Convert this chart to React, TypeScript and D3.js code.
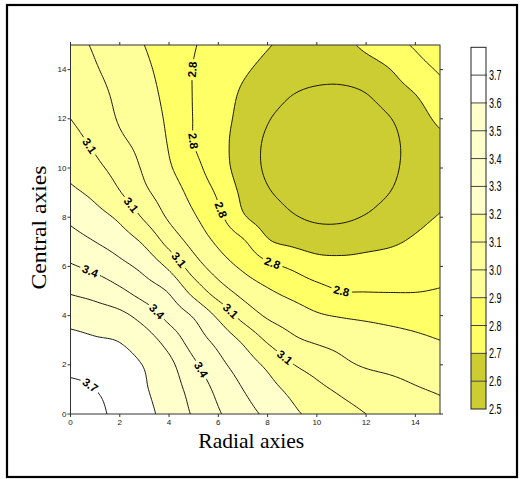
import React from "react";
import * as d3 from "d3";

// ---------- data ----------
const xTickValues = [0, 2, 4, 6, 8, 10, 12, 14];
const yTickValues = [0, 2, 4, 6, 8, 10, 12, 14];
const fillThresholds = [2.5, 2.6, 2.7, 2.8, 2.9, 3.0, 3.1, 3.2, 3.3, 3.4, 3.5, 3.6, 3.7];
const bandColors = ["#CCCC33", "#CCCC33", "#FFFF66", "#FFFF66", "#FFFF99", "#FFFF99", "#FFFF99", "#FFFFCC", "#FFFFCC", "#FFFFCC", "#FFFFCC", "#FFFFFF", "#FFFFFF"];
const lineLevels = [2.6, 2.7, 2.8, 2.9, 3.0, 3.1, 3.2, 3.3, 3.4, 3.5, 3.6, 3.7];
const colorbarTicks = [2.5, 2.6, 2.7, 2.8, 2.9, 3.0, 3.1, 3.2, 3.3, 3.4, 3.5, 3.6, 3.7];
const colorbarMax = 3.8;

// grid values: column x = i, rows y = i..15 (field is symmetric about x = y)
const col0 = [3.79, 3.73, 3.67, 3.63, 3.56, 3.49, 3.41, 3.34, 3.28, 3.22, 3.17, 3.13, 3.10, 3.07, 3.05, 3.03];
const col1 = [3.70, 3.665, 3.61, 3.545, 3.465, 3.376, 3.30, 3.235, 3.176, 3.123, 3.085, 3.06, 3.034, 3.008, 2.99];
const col2 = [3.635, 3.595, 3.524, 3.418, 3.328, 3.253, 3.181, 3.105, 3.061, 3.019, 2.991, 2.976, 2.96, 2.945];
const col3 = [3.545, 3.46, 3.353, 3.27, 3.184, 3.087, 3.019, 2.987, 2.97, 2.952, 2.935, 2.918, 2.90];
const col4 = [3.368, 3.29, 3.181, 3.066, 2.987, 2.949, 2.911, 2.893, 2.882, 2.871, 2.861, 2.85];
const col5 = [3.164, 3.049, 2.966, 2.911, 2.869, 2.831, 2.80, 2.797, 2.796, 2.797, 2.805];
const col6 = [2.951, 2.883, 2.824, 2.785, 2.745, 2.735, 2.737, 2.745, 2.757, 2.77];
const col7 = [2.813, 2.712, 2.68, 2.657, 2.655, 2.672, 2.688, 2.712, 2.735];
const col8 = [2.657, 2.61, 2.585, 2.585, 2.607, 2.646, 2.68, 2.705];
const col9 = [2.569, 2.545, 2.544, 2.562, 2.602, 2.658, 2.68];
const col10 = [2.523, 2.52, 2.539, 2.579, 2.64, 2.665];
const col11 = [2.518, 2.537, 2.577, 2.638, 2.675];
const col12 = [2.556, 2.598, 2.66, 2.72];
const col13 = [2.65, 2.70, 2.765];
const col14 = [2.765, 2.81];
const col15 = [2.845];
const columns = [col0, col1, col2, col3, col4, col5, col6, col7, col8, col9, col10, col11, col12, col13, col14, col15];

// contour labels: level and approximate anchor (data units)
const labelLevels = [2.8, 2.8, 2.8, 2.8, 2.8, 3.1, 3.1, 3.1, 3.1, 3.1, 3.4, 3.4, 3.4, 3.7];
const labelAnchorX = [5.05, 4.99, 5.94, 8.17, 11.0, 0.66, 2.42, 4.31, 6.41, 8.71, 0.79, 3.43, 5.19, 0.79];
const labelAnchorY = [13.98, 11.1, 8.22, 6.06, 5.11, 10.87, 8.43, 6.19, 4.09, 2.28, 5.78, 4.09, 1.79, 1.18];

// ---------- helpers ----------
function buildGrid(cols: number[][]) {
  const n = cols.length;
  const g: number[][] = [];
  for (let j = 0; j < n; j++) {
    const row: number[] = [];
    for (let i = 0; i < n; i++) {
      row.push(i <= j ? cols[i][j - i] : cols[j][i - j]);
    }
    g.push(row);
  }
  return g;
}

function cr(p0: number, p1: number, p2: number, p3: number, t: number) {
  return 0.5 * (2 * p1 + (-p0 + p2) * t + (2 * p0 - 5 * p1 + 4 * p2 - p3) * t * t + (-p0 + 3 * p1 - 3 * p2 + p3) * t * t * t);
}

function makeSampler(g: number[][]) {
  const n = g.length;
  const rowVal = (row: number[], i: number) => {
    if (i < 0) return 2 * row[0] - row[1];
    if (i > n - 1) return 2 * row[n - 1] - row[n - 2];
    return row[i];
  };
  const rowAt = (j: number, x: number) => {
    let row: number[];
    if (j < 0) row = g[0].map((v, k) => 2 * v - g[1][k]);
    else if (j > n - 1) row = g[n - 1].map((v, k) => 2 * v - g[n - 2][k]);
    else row = g[j];
    let i = Math.floor(x);
    if (i > n - 2) i = n - 2;
    const t = x - i;
    return cr(rowVal(row, i - 1), rowVal(row, i), rowVal(row, i + 1), rowVal(row, i + 2), t);
  };
  return (x: number, y: number) => {
    let j = Math.floor(y);
    if (j > n - 2) j = n - 2;
    const t = y - j;
    return cr(rowAt(j - 1, x), rowAt(j, x), rowAt(j + 1, x), rowAt(j + 2, x), t);
  };
}

export default function App() {
  const W = 520, H = 479;
  const X0 = 70.5, X1 = 440, Y0 = 414, Y1 = 45;
  const xs = d3.scaleLinear().domain([0, 15]).range([X0, X1]);
  const ys = d3.scaleLinear().domain([0, 15]).range([Y0, Y1]);

  const grid = buildGrid(columns);
  const sample = makeSampler(grid);
  const STEP = 0.1;
  const N = 151;
  const values = new Array(N * N);
  for (let r = 0; r < N; r++) for (let c = 0; c < N; c++) values[r * N + c] = sample(c * STEP, r * STEP);

  const gen = d3.contours().size([N, N]);
  const proj = d3.geoTransform({
    point: function (this: any, x: number, y: number) {
      this.stream.point(xs((x - 0.5) * STEP), ys((y - 0.5) * STEP));
    },
  });
  const path = d3.geoPath(proj as any);

  const fills = fillThresholds.map((t, k) => ({ d: path(gen.contour(values as any, t) as any) || "", color: bandColors[k] }));
  const lineGeoms = lineLevels.map((t) => ({ t, geom: gen.contour(values as any, t) }));
  const lines = lineGeoms.map((g) => path(g.geom as any) || "");

  // labels: snap to nearest contour point
  const labels = labelLevels.map((lv, idx) => {
    const g = lineGeoms.find((q) => Math.abs(q.t - lv) < 1e-6)!;
    const ax = labelAnchorX[idx], ay = labelAnchorY[idx];
    let best = Infinity, bx = 0, by = 0, ang = 0;
    for (const poly of g.geom.coordinates as any) {
      for (const ring of poly) {
        const len = ring.length;
        for (let k = 0; k < len; k++) {
          const dx = (ring[k][0] - 0.5) * STEP, dy = (ring[k][1] - 0.5) * STEP;
          if (dx < 0 || dx > 15 || dy < 0 || dy > 15) continue;
          const dd = (dx - ax) ** 2 + (dy - ay) ** 2;
          if (dd < best) {
            best = dd;
            bx = dx; by = dy;
            const p = ring[(k - 3 + len) % len], q = ring[(k + 3) % len];
            const px1 = xs((p[0] - 0.5) * STEP), py1 = ys((p[1] - 0.5) * STEP);
            const px2 = xs((q[0] - 0.5) * STEP), py2 = ys((q[1] - 0.5) * STEP);
            let a = (Math.atan2(py2 - py1, px2 - px1) * 180) / Math.PI;
            if (a > 90) a -= 180;
            if (a <= -90) a += 180;
            ang = a;
          }
        }
      }
    }
    return { text: lv.toFixed(1), x: xs(bx), y: ys(by), ang };
  });

  // colorbar
  const cbX = 471, cbW = 15;
  const yc = d3.scaleLinear().domain([fillThresholds[0], colorbarMax]).range([409, 47.3]);

  const tickFont = "'Liberation Sans', Arial, sans-serif";
  const serif = "'Palatino Linotype', 'Book Antiqua', Palatino, 'Liberation Serif', 'DejaVu Serif', serif";

  return (
    <svg width={W} height={H} style={{ position: "absolute", left: 0, top: 0, background: "#fff" }}>
      <defs>
        <clipPath id="plotClip">
          <rect x={X0} y={Y1} width={X1 - X0} height={Y0 - Y1} />
        </clipPath>
        <mask id="lblMask" maskUnits="userSpaceOnUse" x={0} y={0} width={W} height={H}>
          <rect x={0} y={0} width={W} height={H} fill="white" />
          {labels.map((l, i) => (
            <rect key={i} x={-10.5} y={-5} width={21} height={10} fill="black" transform={`translate(${l.x},${l.y}) rotate(${l.ang})`} />
          ))}
        </mask>
      </defs>
      <rect x={7} y={5} width={510} height={472} fill="#fff" stroke="#000" strokeWidth={2.2} />

      <g clipPath="url(#plotClip)">
        <rect x={X0} y={Y1} width={X1 - X0} height={Y0 - Y1} fill={bandColors[0]} />
        {fills.map((f, i) => (
          <path key={i} d={f.d} fill={f.color} stroke="none" />
        ))}
        <g mask="url(#lblMask)">
          {lines.map((d, i) => (
            <path key={i} d={d} fill="none" stroke="#000" strokeWidth={0.9} />
          ))}
        </g>
      </g>
      {labels.map((l, i) => (
        <text key={i} transform={`translate(${l.x},${l.y}) rotate(${l.ang})`} textAnchor="middle" dominantBaseline="central"
          fontFamily={tickFont} fontWeight="bold" fontSize={11.5} fill="#000">{l.text}</text>
      ))}

      <rect x={X0} y={Y1} width={X1 - X0} height={Y0 - Y1} fill="none" stroke="#333" strokeWidth={1} />
      {xTickValues.map((v) => (
        <g key={"x" + v}>
          <line x1={xs(v)} x2={xs(v)} y1={Y0} y2={Y0 + 3} stroke="#333" />
          <line x1={xs(v)} x2={xs(v)} y1={Y1} y2={Y1 - 3} stroke="#333" />
          <text x={xs(v)} y={Y0 + 11} textAnchor="middle" fontFamily={tickFont} fontSize={8} fill="#222">{v}</text>
        </g>
      ))}
      {yTickValues.map((v) => (
        <g key={"y" + v}>
          <line x1={X0} x2={X0 - 3} y1={ys(v)} y2={ys(v)} stroke="#333" />
          <line x1={X1} x2={X1 + 3} y1={ys(v)} y2={ys(v)} stroke="#333" />
          <text x={X0 - 4} y={ys(v)} textAnchor="end" dominantBaseline="central" fontFamily={tickFont} fontSize={8} fill="#222">{v}</text>
        </g>
      ))}

      <text x={(X0 + X1) / 2 - 4} y={448} textAnchor="middle" fontFamily={serif} fontSize={21} textLength={106} lengthAdjust="spacingAndGlyphs" fill="#000">Radial axies</text>
      <text transform={`translate(46,${(Y0 + Y1) / 2 - 2}) rotate(-90)`} textAnchor="middle" fontFamily={serif} fontSize={21} textLength={124} lengthAdjust="spacingAndGlyphs" fill="#000">Central axies</text>

      {fillThresholds.map((t, k) => (
        <rect key={"cb" + k} x={cbX} y={yc(t + 0.1)} width={cbW} height={yc(t) - yc(t + 0.1)} fill={bandColors[k]} />
      ))}
      {colorbarTicks.slice(1).map((t) => (
        <line key={"cbl" + t} x1={cbX} x2={cbX + cbW + 1} y1={yc(t)} y2={yc(t)} stroke="#444" strokeWidth={1} />
      ))}
      <rect x={cbX} y={yc(colorbarMax)} width={cbW} height={yc(fillThresholds[0]) - yc(colorbarMax)} fill="none" stroke="#222" strokeWidth={1} />
      {colorbarTicks.map((t) => (
        <text key={"cbt" + t} x={489} y={yc(t)} dominantBaseline="central" fontFamily={tickFont} fontSize={14}
          textLength={12.5} lengthAdjust="spacingAndGlyphs" fill="#000">{t.toFixed(1)}</text>
      ))}
    </svg>
  );
}
